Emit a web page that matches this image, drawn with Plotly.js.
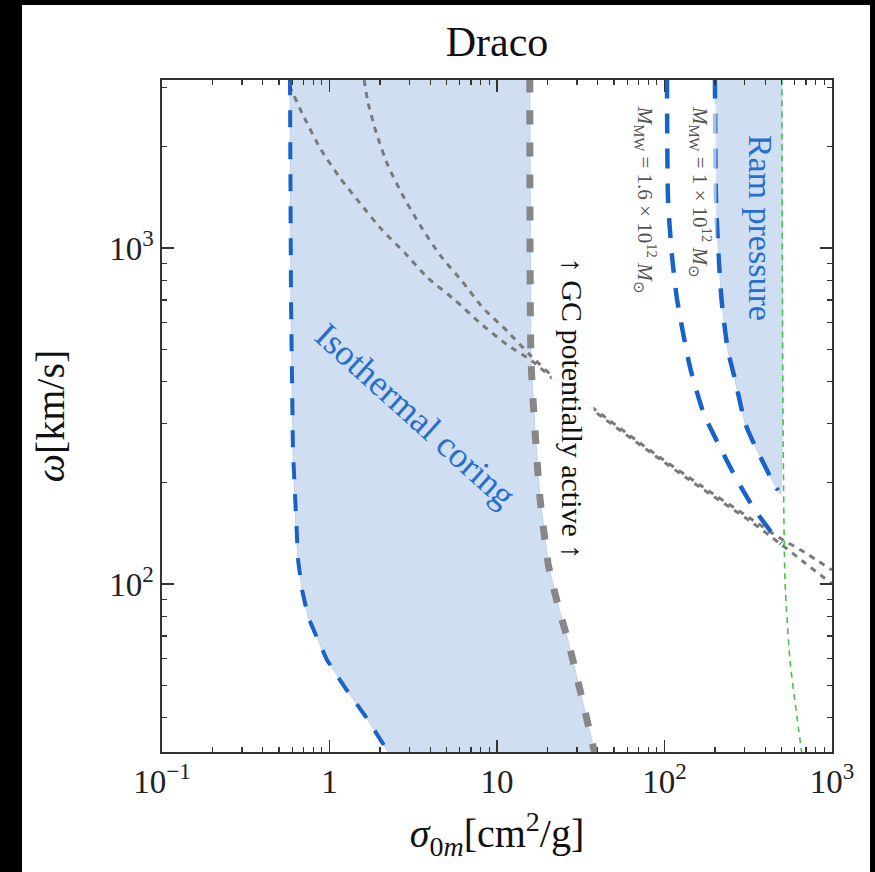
<!DOCTYPE html>
<html>
<head>
<meta charset="utf-8">
<script src="https://cdn.plot.ly/plotly-3.0.1.min.js"></script>
<style>
  html, body { margin:0; padding:0; background:#000; width:875px; height:872px; overflow:hidden; }
  #chart { position:absolute; left:22px; top:5px; width:848px; height:867px; background:#fff; }
</style>
</head>
<body>
<div id="chart"></div>
<script>
// ---- data ----
const isoLeftX  = [0.581, 0.589, 0.605, 0.631, 0.649, 0.686, 0.745, 0.850, 0.966, 1.25, 1.64, 2.30];
const isoLeftY  = [3200, 700, 250, 145, 118, 96, 79.8, 68.5, 59.4, 48.8, 40.4, 31];
const isoRightX = [15.7, 15.96, 16.9, 18.1, 20.4, 23.8, 26.5, 31.3, 35.9, 38.5];
const isoRightY = [3200, 464, 281, 178, 112, 82, 68.1, 48.4, 36.1, 31];

const mw1X  = [200, 203, 211, 220, 239, 264, 303, 357, 438, 476];
const mw1Y  = [3200, 1390, 921, 686, 497, 405, 301, 250, 204, 190];
const ramCornerX = [495];
const ramCornerY = [184];

const mw16X = [103.5, 105, 111, 119, 142, 171, 214, 271, 347, 457, 497];
const mw16Y = [3200, 1390, 940, 700, 442, 323, 256, 204, 166, 138, 132];

const greenX = [502, 509, 524, 561, 610, 662];
const greenY = [3200, 353, 103, 59.4, 42.2, 31];

const gcAX = [0.575, 0.695, 0.877, 1.156, 1.52, 2.06, 2.82, 3.87, 5.61, 7.92, 11.5, 16.2, 23.8, 35.9, 81.9, 163, 324, 489, 690, 1000];
const gcAY = [3050, 2487, 1986, 1616, 1360, 1132, 966, 814, 700, 598, 515, 461, 391, 334, 247, 194, 154, 132, 115.5, 100];
const gcBX = [1.61, 1.70, 1.92, 2.24, 2.75, 3.47, 4.57, 6.18, 8.24, 11.5, 15.7, 23.8, 35.9, 81.9, 163, 324, 489, 690, 1000];
const gcBY = [3162, 2703, 2169, 1753, 1428, 1170, 952, 797, 663, 566, 481, 396, 339, 250, 197, 157, 137, 124, 110];

const xTickVals = [0.1, 1, 10, 100, 1000];
const xTickText = ['10<sup>\u22121</sup>', '1', '10', '10<sup>2</sup>', '10<sup>3</sup>'];
const yTickVals = [100, 1000];
const yTickText = ['10<sup>2</sup>', '10<sup>3</sup>'];

// label positions (data coords) and texts
const labelIso  = {x: 3.24, y: 318, text: 'Isothermal coring'};
const labelGC   = {x: 28.1, y: 332, text: '\u2191 GC potentially active \u2191'};
const labelM16  = {x: 76.6, y: 1390, text: '<i>M</i><sub>MW</sub> = 1.6 \u00d7 10<sup>12</sup> <i>M</i><sub>\u2299</sub>'};
const labelM1   = {x: 163, y: 1468, text: '<i>M</i><sub>MW</sub> = 1 \u00d7 10<sup>12</sup> <i>M</i><sub>\u2299</sub>'};
const labelRam  = {x: 372, y: 1148, text: 'Ram pressure'};

// ---- build ----
const minorVals = (lo, hi) => {
  const out = [];
  for (let e = lo; e < hi; e++) for (let k = 2; k <= 9; k++) out.push(k * Math.pow(10, e));
  return out;
};

const FILL = 'rgb(207,223,241)';
const BLUE = 'rgb(25,98,200)';
const BLUE_TXT = 'rgb(40,110,205)';
const GRAY = 'rgb(122,122,122)';

const isoFill = {
  x: isoLeftX.concat(isoRightX.slice().reverse()),
  y: isoLeftY.concat(isoRightY.slice().reverse()),
  mode: 'lines', fill: 'toself', fillcolor: FILL,
  line: {width: 1, color: 'rgb(190,210,236)'}, hoverinfo: 'skip'
};
const greenTop = greenX.map((x, i) => [x, greenY[i]]).filter(p => p[1] >= ramCornerY[0]).reverse();
const ramFill = {
  x: mw1X.concat(ramCornerX, greenTop.map(p => p[0])),
  y: mw1Y.concat(ramCornerY, greenTop.map(p => p[1])),
  mode: 'lines', fill: 'toself', fillcolor: FILL,
  line: {width: 1, color: 'rgb(190,210,236)'}, hoverinfo: 'skip'
};

const sp = {shape: 'spline', smoothing: 0.6};
const traces = [
  isoFill, ramFill,
  {x: gcAX, y: gcAY, mode: 'lines', line: Object.assign({color: GRAY, width: 3, dash: '6px,6px'}, sp)},
  {x: gcBX, y: gcBY, mode: 'lines', line: Object.assign({color: GRAY, width: 3, dash: '6px,6px'}, sp)},
  {x: isoLeftX, y: isoLeftY, mode: 'lines', line: {color: BLUE, width: 4, dash: '17px,15px'}},
  {x: mw16X, y: mw16Y, mode: 'lines', line: Object.assign({color: BLUE, width: 4.5, dash: '20px,15px'}, sp)},
  {x: mw1X, y: mw1Y, mode: 'lines', line: Object.assign({color: BLUE, width: 4.5, dash: '20px,15px'}, sp)},
  {x: isoRightX, y: isoRightY, mode: 'lines', line: Object.assign({color: 'rgb(135,135,135)', width: 7, dash: '14px,18px'}, sp)},
  {x: greenX, y: greenY, mode: 'lines', line: Object.assign({color: 'rgb(70,195,70)', width: 1.6, dash: '6px,5px'}, sp)}
];

const axisCommon = {
  type: 'log', showgrid: false, zeroline: false,
  showline: true, linecolor: '#333', linewidth: 1.6, mirror: 'ticks',
  ticks: 'inside', ticklen: 12, tickwidth: 1.5, tickcolor: '#333',
  tickmode: 'array', tickfont: {size: 33, color: '#222'}, automargin: false
};

const layout = {
  width: 848, height: 867,
  margin: {l: 140, r: 38, t: 75, b: 120},
  paper_bgcolor: '#fff', plot_bgcolor: '#fff',
  showlegend: false,
  font: {family: '"Liberation Serif", "Times New Roman", serif', color: '#222'},
  title: {text: 'Draco', font: {size: 42, color: '#111'}, x: 0.5, xref: 'paper',
          y: 0.9585, yref: 'container', yanchor: 'middle'},
  xaxis: Object.assign({}, axisCommon, {
    range: [-1, 3], tickvals: xTickVals, ticktext: xTickText,
    minor: {tickmode: 'array', tickvals: minorVals(-1, 3), ticks: 'inside', ticklen: 5, tickwidth: 1.2, tickcolor: '#333', showgrid: false},
    title: {text: '<i>\u03c3</i><sub>0<i>m</i></sub>[cm<sup>2</sup>/g]', font: {size: 40, color: '#111'}, standoff: 20}
  }),
  yaxis: Object.assign({}, axisCommon, {
    range: [1.5, 3.5], tickvals: yTickVals, ticktext: yTickText,
    minor: {tickmode: 'array', tickvals: minorVals(1, 4), ticks: 'inside', ticklen: 5, tickwidth: 1.2, tickcolor: '#333', showgrid: false},
    title: {text: '<i>\u03c9</i>[km/s]', font: {size: 40, color: '#111'}, standoff: 32}
  }),
  annotations: [
    {x: Math.log10(labelIso.x), y: Math.log10(labelIso.y), text: labelIso.text, showarrow: false,
     textangle: 42, font: {size: 36, color: BLUE_TXT}},
    {x: Math.log10(labelGC.x), y: Math.log10(labelGC.y), text: labelGC.text, showarrow: false,
     textangle: 90, font: {size: 30, color: '#111'}, bgcolor: 'rgba(255,255,255,0.93)', borderpad: 4},
    {x: Math.log10(labelM16.x), y: Math.log10(labelM16.y), text: labelM16.text, showarrow: false,
     textangle: 90, font: {size: 21, color: '#555'}, bgcolor: 'rgba(255,255,255,0.6)'},
    {x: Math.log10(labelM1.x), y: Math.log10(labelM1.y), text: labelM1.text, showarrow: false,
     textangle: 90, font: {size: 21, color: '#555'}, bgcolor: 'rgba(255,255,255,0.6)'},
    {x: Math.log10(labelRam.x), y: Math.log10(labelRam.y), text: labelRam.text, showarrow: false,
     textangle: 90, font: {size: 34, color: BLUE_TXT}}
  ]
};

Plotly.newPlot('chart', traces, layout, {staticPlot: true, displayModeBar: false});
</script>
</body>
</html>
